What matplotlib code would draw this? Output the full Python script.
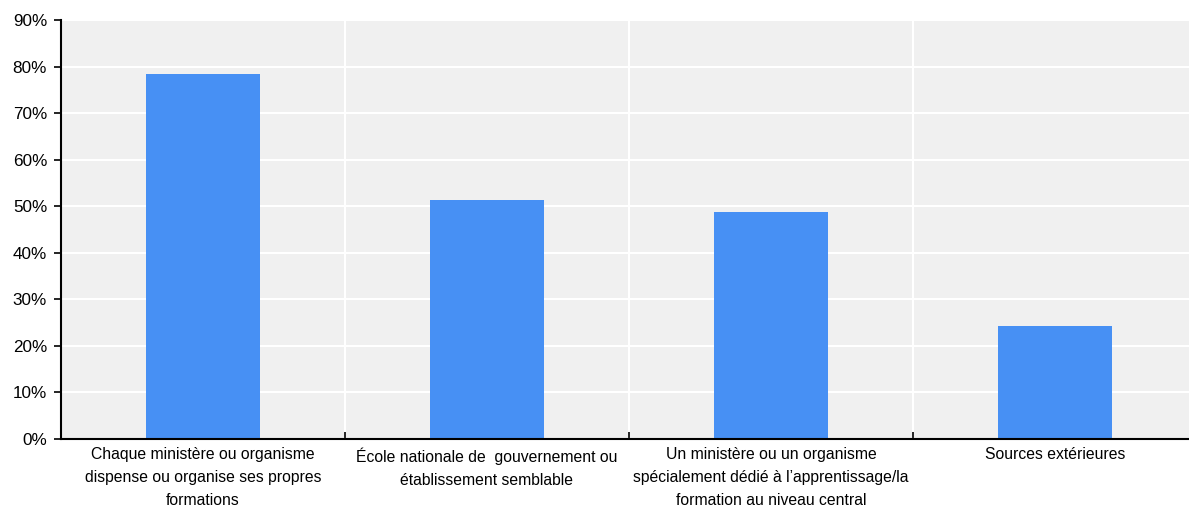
import numpy as np
import matplotlib.pyplot as plt
from matplotlib.ticker import PercentFormatter, MultipleLocator, FixedLocator

categories = [
    "Chaque ministère ou organisme\ndispense ou organise ses propres\nformations",
    "École nationale de  gouvernement ou\nétablissement semblable",
    "Un ministère ou un organisme\nspécialement dédié à l’apprentissage/la\nformation au niveau central",
    "Sources extérieures",
]
values = [78.4, 51.3, 48.7, 24.3]

plt.rcParams["font.family"] = ["Liberation Sans", "DejaVu Sans"]

fig = plt.figure(figsize=(11.89, 5.07), dpi=100)
ax = fig.add_axes([61 / 1189, 1 - 439 / 507, (1197 - 61) / 1189, (439 - 20) / 507])
ax.set_facecolor("#F0F0F0")

x = np.arange(len(categories))
ax.bar(x, values, width=0.4, color="#4790F4", zorder=3)

ax.set_xlim(-0.5, len(categories) - 0.5)
ax.set_ylim(0, 90)
ax.yaxis.set_major_locator(MultipleLocator(10))
ax.yaxis.set_major_formatter(PercentFormatter(decimals=0))

ax.set_xticks(x)
ax.set_xticklabels(categories, fontsize=11.3, linespacing=1.65)
ax.xaxis.set_minor_locator(FixedLocator(x[:-1] + 0.5))
ax.tick_params(axis="x", which="major", length=0, pad=6)
ax.tick_params(axis="x", which="minor", direction="in", length=5, width=1.2, color="black")
ax.tick_params(axis="y", direction="out", length=5, width=1.2, labelsize=12.3, pad=5)

ax.grid(axis="y", which="major", color="white", linewidth=1.5, zorder=0)
ax.grid(axis="x", which="minor", color="white", linewidth=1.5, zorder=0)
ax.set_axisbelow(True)

for s in ["top", "right"]:
    ax.spines[s].set_visible(False)
for s in ["left", "bottom"]:
    ax.spines[s].set_color("black")
    ax.spines[s].set_linewidth(1.5)
    ax.spines[s].set_zorder(4)

fig.savefig("out.png", dpi=100)
